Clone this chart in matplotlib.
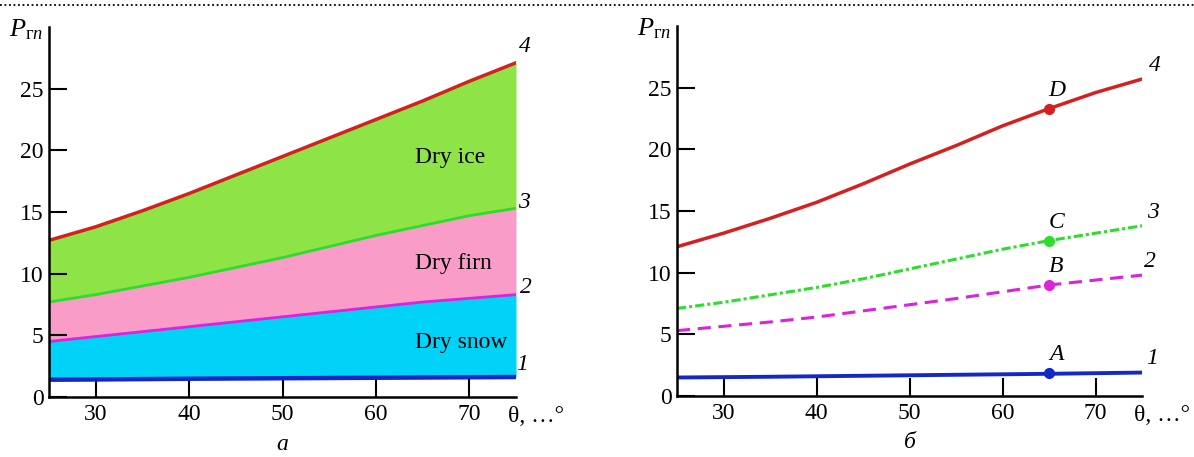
import numpy as np
import matplotlib
matplotlib.use("Agg")
import matplotlib.pyplot as plt
from matplotlib.lines import Line2D

plt.rcParams['font.family'] = 'serif'
plt.rcParams['font.serif'] = ['Liberation Serif', 'Times New Roman', 'DejaVu Serif']
plt.rcParams['mathtext.fontset'] = 'custom'
plt.rcParams['mathtext.rm'] = 'Liberation Serif'
plt.rcParams['mathtext.it'] = 'Liberation Serif:italic'

# ---- data ----
theta = [25, 30, 35, 40, 45, 50, 55, 60, 65, 70, 75]

# panel a
a_snow = [1.4, 1.42, 1.45, 1.48, 1.5, 1.52, 1.54, 1.56, 1.58, 1.6, 1.62]
a_firn = [4.5, 4.9, 5.3, 5.7, 6.1, 6.5, 6.9, 7.3, 7.7, 8.0, 8.3]
a_ice = [7.7, 8.3, 9.0, 9.7, 10.5, 11.3, 12.2, 13.1, 13.9, 14.7, 15.3]
a_top = [12.7, 13.8, 15.1, 16.5, 18.0, 19.5, 21.0, 22.5, 24.0, 25.6, 27.1]

# panel б
b_1 = [1.5, 1.53, 1.56, 1.6, 1.64, 1.68, 1.72, 1.76, 1.8, 1.85, 1.9]
b_2 = [5.3, 5.65, 6.0, 6.4, 6.9, 7.4, 7.9, 8.45, 9.0, 9.4, 9.8]
b_3 = [7.1, 7.6, 8.2, 8.8, 9.5, 10.3, 11.1, 11.9, 12.6, 13.2, 13.8]
b_4 = [12.1, 13.2, 14.4, 15.7, 17.2, 18.8, 20.3, 21.9, 23.3, 24.6, 25.7]

pt_theta = 65
pt_names = ['A', 'B', 'C', 'D']
pt_vals = [1.9, 9.0, 12.6, 23.3]

zone_names = ['Dry ice', 'Dry firn', 'Dry snow']

x_ticks = [30, 40, 50, 60, 70]
y_ticks = [0, 5, 10, 15, 20, 25]

c_red = '#d42020'
c_green = '#2ddc2d'
c_mag = '#dd22dd'
c_blue = '#1428c8'

W, H = 1194, 457
FS = 17
fig = plt.figure(figsize=(W / 100, H / 100), dpi=100)


def setup(ax):
    ax.set_xlim(25, 75)
    ax.set_ylim(0, 30)
    for s in ['top', 'right']:
        ax.spines[s].set_visible(False)
    ax.spines['left'].set_linewidth(1.8)
    ax.spines['bottom'].set_linewidth(1.8)
    ax.set_xticks(x_ticks)
    ax.set_yticks(y_ticks)
    ax.tick_params(direction='in', length=13, width=1.5, labelsize=FS)
    ax.tick_params(axis='x', pad=5)
    ax.tick_params(axis='y', pad=4)
    ax.set_facecolor('none')


# -- panel a --
ax1 = fig.add_axes([49 / W, 60 / H, 467 / W, 370 / H])
setup(ax1)
ax1.fill_between(theta, a_snow, a_firn, color='#00d2f8', lw=0)
ax1.fill_between(theta, a_firn, a_ice, color='#f99cc8', lw=0)
ax1.fill_between(theta, a_ice, a_top, color='#8ee446', lw=0)
ax1.plot(theta, a_snow, color=c_blue, lw=3.2)
ax1.plot(theta, a_firn, color=c_mag, lw=2)
ax1.plot(theta, a_ice, color=c_green, lw=2)
ax1.plot(theta, a_top, color=c_red, lw=2.5)
for nm, yv in zip(zone_names, [19.4, 10.85, 4.45]):
    ax1.text(64.2, yv, nm, fontsize=FS, ha='left', va='center')
for lbl, xv, yv in [('4', 76.0, a_top[-1] + 1.3), ('3', 75.8, a_ice[-1] + 0.5),
                    ('2', 76.1, a_firn[-1] + 0.6), ('1', 75.7, a_snow[-1] + 1.0)]:
    ax1.text(xv, yv, lbl, fontsize=FS, style='italic',
             ha='center', va='center')

# -- panel б --
ax2 = fig.add_axes([677 / W, 61 / H, 465 / W, 370 / H])
setup(ax2)
ax2.plot(theta, b_1, color=c_blue, lw=2.8)
ax2.plot(theta, b_2, color=c_mag, lw=2.2, dashes=(4.3, 2.5))
ax2.plot(theta, b_3, color=c_green, lw=2.2, dashes=(3, 1, 1, 1))
ax2.plot(theta, b_4, color=c_red, lw=2.5)
for nm, yv, c in zip(pt_names, pt_vals, [c_blue, c_mag, c_green, c_red]):
    ax2.plot(pt_theta, yv, 'o', color=c, ms=7)
    ax2.text(pt_theta + 0.8, yv + 1.5, nm, fontsize=FS, style='italic',
             ha='center', va='center')
for lbl, xv, yv in [('4', 76.4, b_4[-1] + 1.1), ('3', 76.2, b_3[-1] + 1.1),
                    ('2', 75.9, b_2[-1] + 1.1), ('1', 76.1, b_1[-1] + 1.1)]:
    ax2.text(xv, yv, lbl, fontsize=FS, style='italic',
             ha='center', va='center')

# axis titles
for ax, lab in [(ax1, 'а'), (ax2, 'б')]:
    ax.annotate(r'$P_{\mathrm{г}п}$', xy=(0, 1.0), xycoords='axes fraction',
                xytext=(-6, -3), textcoords='offset pixels',
                fontsize=19, ha='right', va='center')
    ax.annotate('θ, …°', xy=(74.1, 0), xycoords=('data', 'axes fraction'),
                xytext=(0, -9), textcoords='offset pixels',
                fontsize=FS, ha='left', va='top')
    ax.annotate(lab, xy=(0.5, 0), xycoords='axes fraction',
                xytext=(0, -47), textcoords='offset pixels',
                fontsize=FS, style='italic', ha='center', va='center')

# dotted rule on top
fig.add_artist(Line2D([0, 1], [1 - 5 / H, 1 - 5 / H], transform=fig.transFigure,
                      color='black', lw=1.3, ls=(0, (1, 1.5))))

fig.savefig('out.png', dpi=100)
